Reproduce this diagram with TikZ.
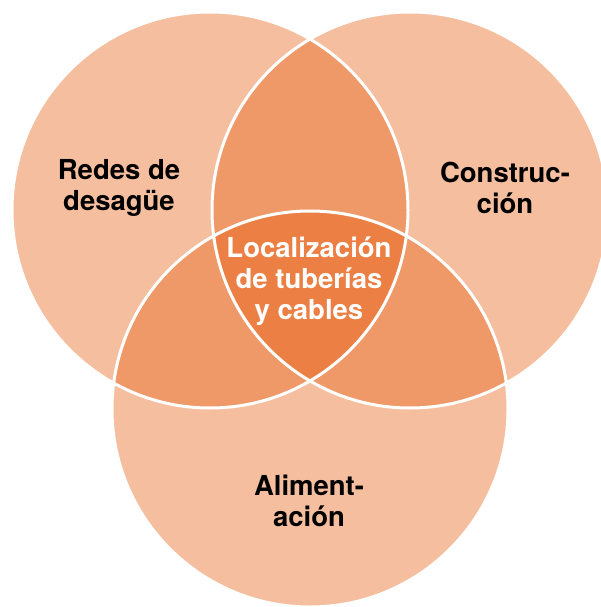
\documentclass[tikz,border=0pt]{standalone}
\usepackage{fontspec}
\setmainfont{TeX Gyre Heros}
\definecolor{vennlight}{HTML}{F5BE9E}
\definecolor{vennmid}{HTML}{EF9968}
\definecolor{venncore}{HTML}{EC8044}

\begin{document}
\begin{tikzpicture}[x=1pt,y=-1pt,
    setlabel/.style={font=\bfseries\fontsize{27.5}{31}\selectfont, align=center, text=black},
    corelabel/.style={setlabel, text=white}]
    \useasboundingbox (0,0) rectangle (601,607);
    % Centres of the three sets
    \coordinate (cl) at (210,210);
    \coordinate (cr) at (410,210);
    \coordinate (cb) at (310,409);
    \def\rad{198pt}

    % Single sets
    \foreach \c in {cl,cr,cb} {
      \fill[vennlight] (\c) circle[radius=\rad];
    }
    % Pairwise overlaps
    \foreach \a/\b in {cl/cr, cl/cb, cr/cb} {
      \begin{scope}
        \clip (\a) circle[radius=\rad];
        \fill[vennmid] (\b) circle[radius=\rad];
      \end{scope}
    }
    % Common part of all three
    \begin{scope}
      \clip (cl) circle[radius=\rad];
      \clip (cr) circle[radius=\rad];
      \fill[venncore] (cb) circle[radius=\rad];
    \end{scope}
    % White outlines
    \foreach \c in {cl,cr,cb} {
      \draw[white, line width=3pt] (\c) circle[radius=\rad];
    }

    % Labels
    \node[setlabel] (redes) at (119,188) {Redes de\\desagüe};
    \node[setlabel] (constr) at (505,188) {Construc-\\ción};
    \node[corelabel] (core) at (309,281) {Localización\\de tuberías\\y cables};
    \node[setlabel] (alim) at (309,501) {Aliment-\\ación};
\end{tikzpicture}
\end{document}
